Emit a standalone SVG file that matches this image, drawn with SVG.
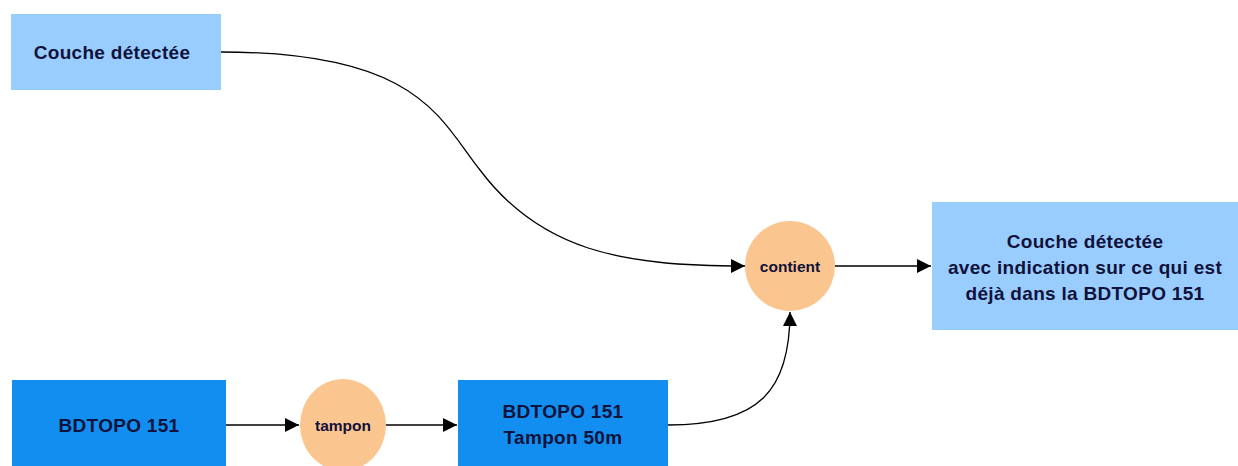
<svg xmlns="http://www.w3.org/2000/svg" width="1238" height="466" viewBox="0 0 1238 466">
<defs>
<marker id="arr" viewBox="0 0 10 10" refX="10" refY="5" markerWidth="22" markerHeight="14" markerUnits="userSpaceOnUse" orient="auto"><path d="M0,0 L10,5 L0,10 z" fill="#000"/></marker>
<style>
.light{fill:#99ccff}
.dark{fill:#118ef0}
.op{fill:#fbc58f}
.t{font-family:"Liberation Sans",Arial,sans-serif;font-weight:bold;font-size:19px;fill:#10123a;text-anchor:middle;letter-spacing:0.3px}
.s{font-size:15.5px;letter-spacing:0}
.c{fill:none;stroke:#000;stroke-width:1.3;marker-end:url(#arr)}
</style>
</defs>
<rect width="1238" height="466" fill="#fff"/>
<g id="connectors">
<path class="c" d="M221,52 C420,52 440,120 480,170 C540,250 620,266 745,266"/>
<path class="c" d="M835,266 L931,266"/>
<path class="c" d="M226,425 L299,425"/>
<path class="c" d="M385,425 L457,425"/>
<path class="c" d="M668,425 C760,425 790,390 790,312"/>
</g>
<g id="couche"><rect class="light" x="11" y="14" width="210" height="76"/><text class="t" x="112" y="59">Couche détectée</text></g>
<g id="resultat"><rect class="light" x="932" y="202" width="306" height="128"/>
<text class="t" x="1085" y="248">Couche détectée</text>
<text class="t" x="1085" y="274">avec indication sur ce qui est</text>
<text class="t" x="1085" y="300">déjà dans la BDTOPO 151</text></g>
<g id="contient"><circle class="op" cx="790" cy="266" r="45"/><text class="t s" x="790" y="272">contient</text></g>
<g id="bdtopo"><rect class="dark" x="12" y="380" width="214" height="90"/><text class="t" x="119" y="432">BDTOPO 151</text></g>
<g id="tampon"><ellipse class="op" cx="343" cy="425" rx="43" ry="46"/><text class="t s" x="343" y="431">tampon</text></g>
<g id="bdtopo50"><rect class="dark" x="458" y="380" width="210" height="90"/><text class="t" x="563" y="418">BDTOPO 151</text><text class="t" x="563" y="444">Tampon 50m</text></g>
</svg>
